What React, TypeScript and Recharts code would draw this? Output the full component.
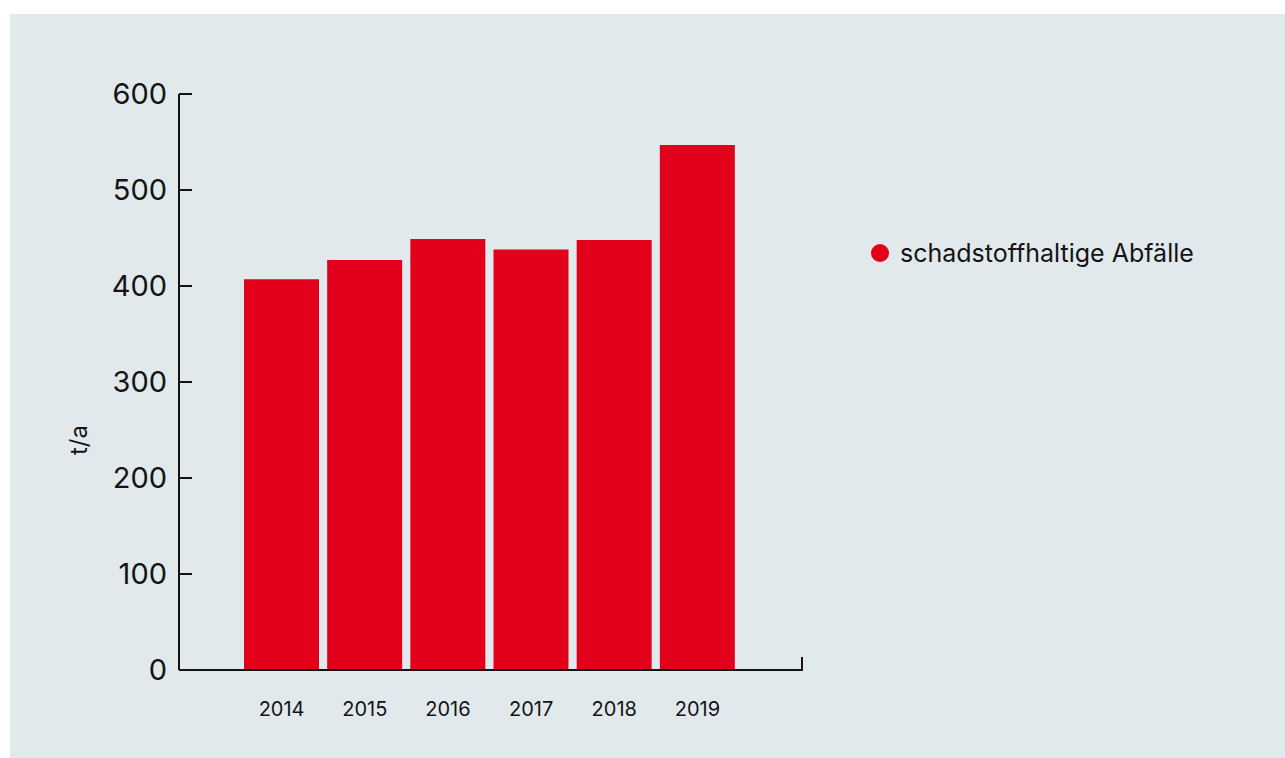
import { BarChart, Bar, XAxis, YAxis } from "recharts"

const years = ["2014", "2015", "2016", "2017", "2018", "2019"]
const waste = [407, 427, 449, 438, 448, 547]
const yTicks = [0, 100, 200, 300, 400, 500, 600]

const seriesName = "schadstoffhaltige Abfälle"
const unitLabel = "t/a"

const data = years.map((y, i) => ({ year: y, value: waste[i] }))

const RED = "#e2001a"
const INK = "#141414"
const FONT = "Inter, 'Noto Sans', sans-serif"

function LeftTick(props: any) {
  const { x, y, payload } = props
  return (
    <g>
      <line x1={x} y1={y} x2={x + 13} y2={y} stroke={INK} strokeWidth={2} />
      <text x={x - 12} y={y} dy="0.36em" textAnchor="end" fontSize={29} fill={INK} fontFamily={FONT}>
        {payload.value}
      </text>
    </g>
  )
}

// small upward tick at the right end of the x axis
function RightTick(props: any) {
  const { x, y } = props
  return <line x1={x} y1={y + 1} x2={x} y2={y - 13} stroke={INK} strokeWidth={2} />
}

function UnitLabel(props: any) {
  const vb = props.viewBox
  const cx = vb.x - 1
  const cy = vb.y + vb.height / 2 + 58
  return (
    <text x={cx} y={cy} transform={`rotate(-90, ${cx}, ${cy})`} textAnchor="middle" dy="0.36em" fontSize={24} fill={INK} fontFamily={FONT}>
      {unitLabel}
    </text>
  )
}

export default function App() {
  return (
    <div style={{ position: "absolute", left: 10, top: 14, width: 1275, height: 744, background: "#e2e9ec" }}>
      <BarChart width={1275} height={744} data={data} margin={{ top: 80, right: 482, bottom: 28, left: 69 }}>
        <XAxis
          dataKey="year"
          padding={{ left: 61, right: 63 }}
          height={60}
          axisLine={{ stroke: INK, strokeWidth: 2 }}
          tickLine={false}
          tickSize={0}
          tickMargin={32}
          tick={{ fontSize: 20, fill: INK, fontFamily: FONT }}
        />
        <YAxis
          domain={[0, 600]}
          ticks={yTicks}
          width={100}
          axisLine={{ stroke: INK, strokeWidth: 2 }}
          tickLine={false}
          tickSize={0}
          tickMargin={0}
          tick={<LeftTick />}
          label={<UnitLabel />}
        />
        <YAxis
          yAxisId="right"
          orientation="right"
          type="number"
          domain={[0, 600]}
          allowDataOverflow
          ticks={[0]}
          interval={0}
          width={1}
          axisLine={false}
          tickLine={false}
          tickSize={0}
          tickMargin={0}
          tick={<RightTick />}
        />
        <Bar dataKey="value" name={seriesName} fill={RED} barSize={75} isAnimationActive={false} />
      </BarChart>
      <div style={{ position: "absolute", left: 860, top: 224, display: "flex", alignItems: "center", fontFamily: FONT, fontSize: 25, color: INK }}>
        <svg width={20} height={20} style={{ marginRight: 10 }}>
          <circle cx={10} cy={10} r={9} fill={RED} />
        </svg>
        <span>{seriesName}</span>
      </div>
    </div>
  )
}
